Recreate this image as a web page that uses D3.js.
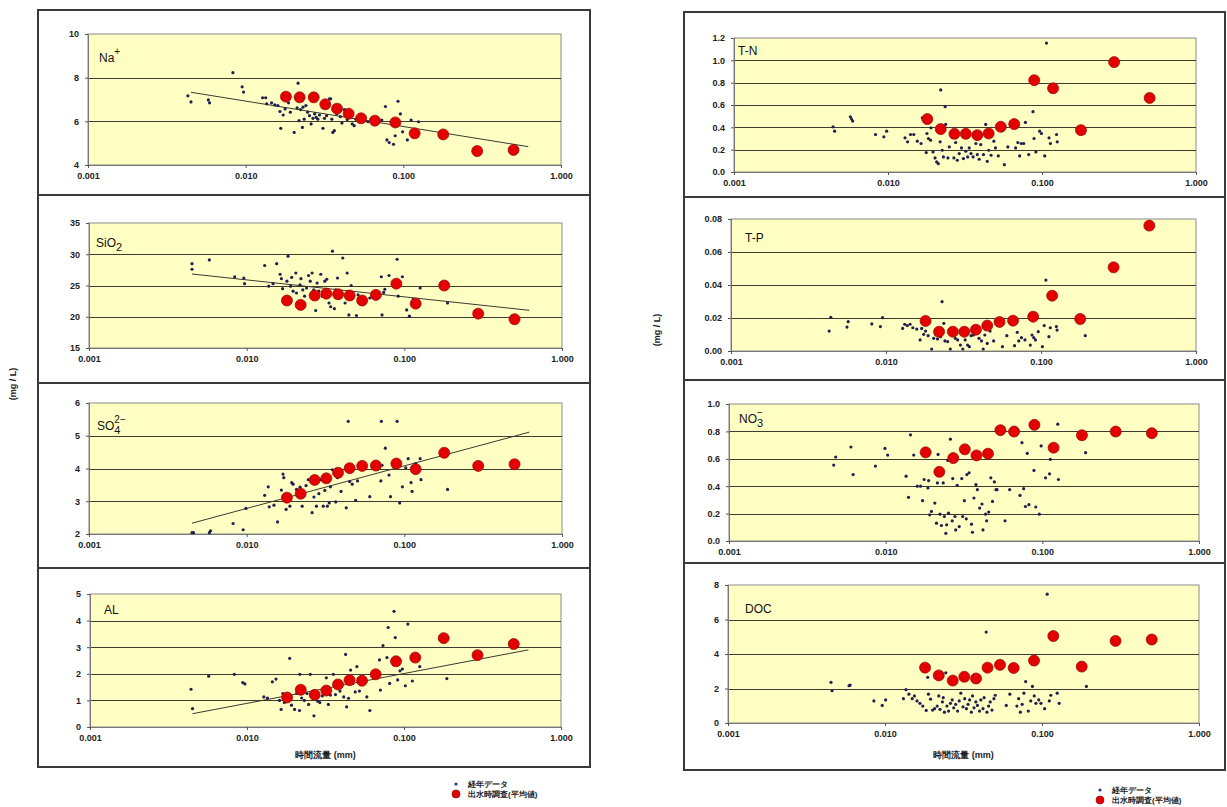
<!DOCTYPE html>
<html>
<head>
<meta charset="utf-8">
<script src="https://cdn.jsdelivr.net/npm/d3@7"></script>
<style>
body { margin: 0; background: #fff; }
text { font-family: "Liberation Sans", Arial, sans-serif; }
</style>
</head>
<body>
<svg id="chart" width="1227" height="807"></svg>
<script>
// x positions of the flood-survey averages (common to every panel)
const floodX = [0.018, 0.022, 0.027, 0.032, 0.038, 0.045, 0.054, 0.066, 0.089, 0.118, 0.179, 0.294, 0.50]
const xTicks = [0.001, 0.01, 0.1, 1]
const trendX = [0.0045, 0.62]

// Na+
const naFlood = [7.13, 7.1, 7.1, 6.78, 6.58, 6.35, 6.14, 6.03, 5.95, 5.45, 5.4, 4.64, 4.69]
const naTrend = [7.33, 4.84]
const naTicks = [4, 6, 8, 10]
const naDots = [[0.0043,7.17],[0.0045,6.89],[0.0058,6.98],[0.0059,6.85],[0.0083,8.23],[0.0095,7.58],[0.0097,7.34],
  [0.0128,7.08],[0.0134,7.08],[0.0136,6.8],[0.0146,6.85],[0.0153,6.75],[0.016,6.72],[0.0165,6.45],[0.0167,5.68],
  [0.0173,6.29],[0.0178,6.57],[0.0187,6.85],[0.0192,6.42],[0.0203,5.49],[0.0212,6.62],[0.0215,7.75],[0.0218,6.03],
  [0.0223,6.54],[0.0229,5.72],[0.0231,6.65],[0.0235,6.1],[0.0241,6.72],[0.0247,6.42],[0.0254,6.26],[0.026,5.88],
  [0.0267,6.14],[0.0274,6.34],[0.028,6.18],[0.0287,6.1],[0.0294,6.29],[0.0309,5.68],[0.0316,6.14],[0.0326,6.26],
  [0.0334,6.8],[0.034,7.03],[0.0346,7.03],[0.0352,6.1],[0.0357,5.49],[0.0365,5.57],[0.0378,6.34],[0.0399,6.22],
  [0.0408,5.92],[0.0423,6.54],[0.0441,6.08],[0.0452,6.18],[0.0474,5.88],[0.0488,5.8],[0.05,6.1],[0.0597,5.98],
  [0.066,6.06],[0.073,6.06],[0.077,6.68],[0.0787,5.15],[0.0814,5.03],[0.0866,4.95],[0.0888,5.34],[0.0925,6.92],
  [0.0958,6.34],[0.099,5.52],[0.106,5.15],[0.112,6.06],[0.125,5.98],[0.09,5.88]]

// SiO2
const siFlood = [22.6, 21.9, 23.4, 23.7, 23.6, 23.4, 22.6, 23.5, 25.3, 22.1, 25.0, 20.5, 19.6]
const siTrend = [26.84, 21.03]
const siTicks = [15, 20, 25, 30, 35]
const siDots = [[0.0045,28.5],[0.0045,27.6],[0.0058,29.1],[0.0084,26.4],[0.0096,26.2],[0.0097,25.3],[0.013,28.2],
  [0.0138,24.9],[0.0147,25.3],[0.0155,28.5],[0.0163,26.8],[0.0166,26.1],[0.0169,24.5],[0.018,25.7],[0.0183,29.7],
  [0.019,24.9],[0.0193,26.3],[0.0197,24.1],[0.0205,27.0],[0.0207,23.8],[0.0218,25.1],[0.0221,26.1],[0.0227,24.3],
  [0.0233,23.3],[0.024,24.6],[0.0247,26.6],[0.0253,25.7],[0.026,27.0],[0.0266,24.3],[0.0274,21.0],[0.028,25.4],
  [0.0287,24.1],[0.0295,26.8],[0.0302,23.3],[0.0313,25.7],[0.0322,26.0],[0.0333,22.2],[0.0341,21.6],[0.035,30.5],
  [0.036,21.3],[0.0367,24.3],[0.0377,26.2],[0.0386,23.8],[0.0407,29.4],[0.0421,22.2],[0.0434,27.0],[0.0445,20.3],
  [0.046,25.0],[0.0497,20.2],[0.0509,23.5],[0.0604,23.0],[0.0715,26.4],[0.0722,20.3],[0.0752,24.4],[0.08,26.6],
  [0.09,29.2],[0.0914,23.3],[0.0972,26.4],[0.1035,21.1],[0.1077,20.1],[0.114,22.8],[0.126,24.6],[0.188,22.2],[0.074,23.9]]

// SO4 2-
const soFlood = [3.11, 3.23, 3.65, 3.7, 3.87, 4.01, 4.08, 4.09, 4.15, 3.98, 4.48, 4.08, 4.13]
const soTrend = [2.33, 5.11]
const soTicks = [2, 3, 4, 5, 6]
const soDots = [[0.0045,2.04],[0.0046,2.04],[0.0058,2.04],[0.0059,2.1],[0.0082,2.32],[0.0095,2.13],[0.0099,2.78],
  [0.013,3.18],[0.0137,3.44],[0.0139,2.83],[0.0149,2.88],[0.0157,2.37],[0.0166,3.34],[0.017,3.83],[0.0172,3.72],
  [0.0178,2.75],[0.0188,2.85],[0.0193,3.57],[0.0197,3.52],[0.0207,3.36],[0.0218,3.43],[0.0225,2.85],[0.023,3.23],
  [0.0238,3.48],[0.0246,3.66],[0.026,2.65],[0.0267,3.13],[0.0277,2.85],[0.0287,3.23],[0.0295,3.66],[0.0306,2.85],
  [0.0313,3.33],[0.0325,2.85],[0.0334,2.95],[0.034,3.44],[0.035,3.96],[0.0367,2.98],[0.0377,3.72],[0.0397,3.3],
  [0.0428,2.8],[0.0441,5.44],[0.045,3.6],[0.0467,3.52],[0.0491,3.03],[0.0505,3.62],[0.0604,3.14],[0.071,3.62],
  [0.0715,5.44],[0.0722,4.1],[0.0758,4.62],[0.08,3.8],[0.0817,3.14],[0.09,5.44],[0.0934,2.95],[0.0972,3.44],
  [0.1021,4.02],[0.1058,4.3],[0.1103,3.57],[0.112,3.3],[0.126,4.3],[0.1275,3.66],[0.188,3.36],[0.118,4.15]]

// AL
const alFlood = [1.11, 1.4, 1.21, 1.37, 1.6, 1.76, 1.74, 1.98, 2.47, 2.61, 3.34, 2.7, 3.12]
const alTrend = [0.5, 2.9]
const alTicks = [0, 1, 2, 3, 4, 5]
const alDots = [[0.0044,1.42],[0.0045,0.69],[0.0057,1.91],[0.0083,1.98],[0.0094,1.67],[0.0097,1.62],[0.0128,1.13],
  [0.0135,1.09],[0.0145,1.7],[0.0153,1.8],[0.0161,1.0],[0.0165,0.66],[0.0169,1.26],[0.0173,0.92],[0.0187,2.58],
  [0.0192,0.82],[0.0201,0.66],[0.0207,1.26],[0.0216,0.62],[0.0217,1.98],[0.0223,1.09],[0.0232,1.0],[0.0241,1.26],
  [0.0247,0.85],[0.0253,1.98],[0.0267,0.42],[0.0275,1.13],[0.0282,0.97],[0.0291,0.92],[0.0302,1.17],[0.032,1.85],
  [0.033,0.85],[0.034,1.2],[0.0355,1.98],[0.0366,1.22],[0.0391,1.35],[0.0413,1.13],[0.0425,2.73],[0.0431,0.76],
  [0.0443,1.08],[0.0457,2.14],[0.0472,1.64],[0.0489,1.32],[0.0501,2.27],[0.052,1.35],[0.058,1.13],[0.0606,0.62],
  [0.0698,2.52],[0.0707,1.39],[0.0735,3.06],[0.0793,3.74],[0.0779,2.61],[0.0811,1.64],[0.0864,4.35],[0.088,3.36],
  [0.0911,1.77],[0.0943,2.11],[0.0977,2.18],[0.102,1.55],[0.1058,3.87],[0.113,1.73],[0.126,2.27],[0.1875,1.82]]

// T-N
const tnFlood = [0.474, 0.384, 0.342, 0.342, 0.33, 0.345, 0.405, 0.429, 0.822, 0.75, 0.375, 0.984, 0.663]
const tnTicks = [0, 0.2, 0.4, 0.6, 0.8, 1.0, 1.2]
const tnDots = [[0.0044,0.405],[0.0045,0.366],[0.0057,0.495],[0.0058,0.474],[0.0059,0.456],[0.0083,0.336],
  [0.0094,0.315],[0.0098,0.366],[0.0129,0.306],[0.0134,0.27],[0.014,0.336],[0.0147,0.336],[0.0155,0.276],
  [0.0164,0.255],[0.0167,0.486],[0.0177,0.174],[0.0179,0.345],[0.0183,0.3],[0.0189,0.285],[0.019,0.396],
  [0.0196,0.18],[0.0202,0.126],[0.0207,0.09],[0.0212,0.075],[0.0218,0.27],[0.022,0.735],[0.0225,0.195],
  [0.0229,0.135],[0.0235,0.585],[0.0237,0.426],[0.0245,0.126],[0.025,0.225],[0.0258,0.315],[0.0268,0.126],
  [0.0275,0.264],[0.0282,0.105],[0.029,0.165],[0.03,0.216],[0.0309,0.12],[0.032,0.186],[0.0329,0.135],
  [0.0337,0.216],[0.0346,0.165],[0.0357,0.135],[0.0372,0.255],[0.038,0.156],[0.0391,0.114],[0.04,0.246],
  [0.0417,0.156],[0.0431,0.426],[0.0441,0.096],[0.0451,0.195],[0.0467,0.15],[0.0487,0.276],[0.0499,0.216],
  [0.052,0.144],[0.057,0.066],[0.06,0.225],[0.0674,0.216],[0.0697,0.264],[0.0716,0.144],[0.0734,0.255],
  [0.0761,0.255],[0.0781,0.444],[0.082,0.156],[0.0874,0.54],[0.0888,0.3],[0.0913,0.18],[0.0965,0.366],
  [0.0992,0.345],[0.1042,0.144],[0.1069,1.155],[0.1111,0.306],[0.1134,0.255],[0.1243,0.336],[0.1256,0.27],[0.1876,0.345]]

// T-P
const tpFlood = [0.0182, 0.0117, 0.0117, 0.0117, 0.0129, 0.0154, 0.0176, 0.0184, 0.0208, 0.0335, 0.0194, 0.0507, 0.076]
const tpTicks = [0, 0.02, 0.04, 0.06, 0.08]
const tpDots = [[0.0043,0.0121],[0.0044,0.0204],[0.0056,0.0145],[0.0057,0.0178],[0.0081,0.0164],[0.0092,0.0148],
  [0.0095,0.0202],[0.0128,0.0137],[0.0132,0.0162],[0.0137,0.0154],[0.0143,0.0162],[0.0149,0.0141],[0.0158,0.0133],
  [0.0166,0.0067],[0.017,0.0137],[0.0175,0.0101],[0.018,0.0121],[0.0187,0.0093],[0.0197,0.0012],[0.0203,0.0077],
  [0.021,0.0097],[0.0215,0.0073],[0.0225,0.0087],[0.023,0.0299],[0.0236,0.0168],[0.024,0.0061],[0.025,0.0057],
  [0.026,0.0012],[0.0268,0.0097],[0.028,0.0077],[0.029,0.0067],[0.0302,0.0036],[0.0313,0.0012],[0.0324,0.0067],
  [0.0336,0.0036],[0.0345,0.0026],[0.0354,0.0093],[0.0367,0.0097],[0.0383,0.0148],[0.0398,0.0077],[0.0413,0.0061],
  [0.0424,0.0012],[0.0434,0.0097],[0.045,0.0046],[0.0469,0.0121],[0.0495,0.0061],[0.0564,0.0026],[0.0602,0.0093],
  [0.0675,0.0032],[0.0703,0.0113],[0.0719,0.0061],[0.0748,0.0081],[0.0788,0.0067],[0.0853,0.0036],[0.0875,0.0097],
  [0.0898,0.0081],[0.0921,0.0067],[0.096,0.0117],[0.1021,0.0026],[0.1049,0.0154],[0.1076,0.043],[0.1125,0.0087],
  [0.1148,0.0141],[0.1256,0.0148],[0.127,0.0127],[0.193,0.0093]]

// NO3-
const noFlood = [0.647, 0.505, 0.605, 0.669, 0.625, 0.637, 0.809, 0.799, 0.848, 0.681, 0.772, 0.799, 0.787]
const noTicks = [0, 0.2, 0.4, 0.6, 0.8, 1.0]
const noDots = [[0.00466,0.554],[0.0048,0.613],[0.006,0.686],[0.0062,0.485],[0.0086,0.547],[0.0099,0.676],
  [0.0103,0.627],[0.0135,0.473],[0.014,0.319],[0.0144,0.775],[0.0151,0.627],[0.0159,0.4],[0.0167,0.4],[0.0172,0.294],
  [0.0176,0.449],[0.0186,0.387],[0.0188,0.441],[0.0191,0.191],[0.0196,0.216],[0.0206,0.277],[0.0211,0.13],
  [0.0214,0.424],[0.0216,0.632],[0.0222,0.196],[0.0227,0.113],[0.0233,0.424],[0.0237,0.179],[0.0242,0.056],
  [0.0245,0.118],[0.0249,0.588],[0.0252,0.203],[0.0259,0.743],[0.0266,0.147],[0.0268,0.456],[0.0277,0.179],
  [0.028,0.081],[0.0286,0.407],[0.0295,0.105],[0.0306,0.456],[0.031,0.179],[0.0318,0.294],[0.0327,0.162],
  [0.033,0.485],[0.0341,0.498],[0.0353,0.123],[0.0358,0.064],[0.0366,0.314],[0.0377,0.412],[0.0385,0.375],
  [0.0398,0.24],[0.0412,0.27],[0.0418,0.081],[0.0434,0.196],[0.0441,0.147],[0.0455,0.211],[0.0469,0.461],
  [0.0481,0.289],[0.0494,0.431],[0.0506,0.375],[0.0514,0.375],[0.0578,0.147],[0.0619,0.375],[0.072,0.333],
  [0.0741,0.718],[0.076,0.382],[0.078,0.252],[0.0801,0.64],[0.0821,0.265],[0.0884,0.515],[0.0908,0.248],
  [0.0957,0.196],[0.0983,0.694],[0.1048,0.461],[0.1112,0.49],[0.1124,0.596],[0.1255,0.853],[0.1267,0.449],[0.1889,0.645]]

// DOC
const docFlood = [3.21, 2.76, 2.46, 2.68, 2.58, 3.21, 3.37, 3.19, 3.62, 5.04, 3.27, 4.76, 4.84]
const docTicks = [0, 2, 4, 6, 8]
const docDots = [[0.00453,2.36],[0.0046,1.87],[0.0059,2.16],[0.006,2.2],[0.0085,1.28],[0.0096,1.02],[0.0101,1.34],
  [0.0131,1.41],[0.0136,1.93],[0.0142,1.67],[0.0149,1.41],[0.0154,1.57],[0.016,1.28],[0.0167,1.14],[0.0174,0.98],
  [0.0183,0.73],[0.0187,2.65],[0.0189,1.67],[0.0195,1.38],[0.0201,0.75],[0.0207,0.83],[0.0215,0.98],[0.022,1.57],
  [0.0224,0.79],[0.0232,1.22],[0.0235,1.47],[0.0239,0.63],[0.0244,2.91],[0.0248,0.98],[0.0254,0.69],[0.0261,1.14],
  [0.0268,1.34],[0.0274,0.88],[0.0282,1.08],[0.029,0.69],[0.0297,1.28],[0.0304,1.73],[0.0314,0.94],[0.0322,1.41],
  [0.033,0.83],[0.0338,1.08],[0.0346,1.34],[0.0355,0.63],[0.0361,1.57],[0.0369,0.88],[0.0379,1.22],[0.0388,1.02],
  [0.04,0.69],[0.0408,1.34],[0.0421,0.83],[0.0428,1.47],[0.0441,5.27],[0.0446,0.63],[0.0457,0.98],[0.0468,1.22],
  [0.048,0.75],[0.0494,1.41],[0.0504,1.61],[0.0592,1.02],[0.0624,1.67],[0.0692,0.98],[0.071,1.41],[0.0728,0.63],
  [0.0748,1.08],[0.0767,1.73],[0.0787,2.4],[0.0818,0.69],[0.0848,1.28],[0.0869,2.12],[0.0892,1.57],[0.0915,1.14],
  [0.0953,1.34],[0.0985,1.14],[0.104,0.83],[0.1079,7.47],[0.1114,1.28],[0.1138,1.61],[0.125,1.73],[0.1287,1.14],[0.1918,2.12]]

const legendLabels = ["経年データ", "出水時調査(平均値)"]
const xTitle = "時間流量 (mm)"
const yTitle = "(mg / L)"

// panel layout: box = [x0, y0, x1, y1], plot = [x0, y0, x1, y1], lab = [dx, dy] of the label
const panels = [
  {dots: naDots, flood: naFlood, trend: naTrend, ticks: naTicks, fmt: "d", label: {base: "Na", sup: "+"},
   box: [38, 10, 590, 195], plot: [88, 34, 561, 165], lab: [11, 28]},
  {dots: siDots, flood: siFlood, trend: siTrend, ticks: siTicks, fmt: "d", label: {base: "SiO", sub: "2"},
   box: [38, 195, 590, 383], plot: [89, 223, 562, 348], lab: [7, 24]},
  {dots: soDots, flood: soFlood, trend: soTrend, ticks: soTicks, fmt: "d", label: {base: "SO", sub: "4", sup: "2−"},
   box: [38, 383, 590, 568], plot: [89, 403, 562, 534], lab: [8, 27]},
  {dots: alDots, flood: alFlood, trend: alTrend, ticks: alTicks, fmt: "d", label: {base: "AL"},
   box: [38, 568, 590, 767], plot: [90, 594, 561, 727], lab: [14, 20], xTitle: 758},
  {dots: tnDots, flood: tnFlood, ticks: tnTicks, fmt: ".1f", label: {base: "T-N"},
   box: [684, 12, 1225, 197], plot: [734, 38, 1196, 172], lab: [4, 17]},
  {dots: tpDots, flood: tpFlood, ticks: tpTicks, fmt: ".2f", label: {base: "T-P"},
   box: [684, 197, 1225, 380], plot: [731, 219, 1196, 351], lab: [14, 23]},
  {dots: noDots, flood: noFlood, ticks: noTicks, fmt: ".1f", label: {base: "NO", sub: "3", sup: "−"},
   box: [684, 380, 1225, 563], plot: [729, 404, 1199, 541], lab: [10, 19]},
  {dots: docDots, flood: docFlood, ticks: docTicks, fmt: "d", label: {base: "DOC"},
   box: [684, 563, 1225, 770], plot: [728, 585, 1199, 723], lab: [17, 28], xTitle: 758}
]

const svg = d3.select("#chart")
svg.append("rect").attr("width", 1227).attr("height", 807).attr("fill", "#fff")

panels.forEach(function(p) {
  const [bx0, by0, bx1, by1] = p.box
  const [px0, py0, px1, py1] = p.plot

  svg.append("rect")
    .attr("x", bx0).attr("y", by0)
    .attr("width", bx1 - bx0).attr("height", by1 - by0)
    .attr("fill", "#fff").attr("stroke", "#3a3a3a").attr("stroke-width", 2)

  const x = d3.scaleLog().domain([0.001, 1]).range([px0, px1])
  const y = d3.scaleLinear().domain(d3.extent(p.ticks)).range([py1, py0])

  const g = svg.append("g")

  g.append("rect")
    .attr("x", px0).attr("y", py0)
    .attr("width", px1 - px0).attr("height", py1 - py0)
    .attr("fill", "#ffffc4").attr("stroke", "#8a8a8a").attr("stroke-width", 1)

  // gridlines
  g.selectAll(".grid")
    .data(p.ticks.slice(1, -1))
    .enter().append("line")
    .attr("x1", px0).attr("x2", px1)
    .attr("y1", d => Math.round(y(d)) + 0.5).attr("y2", d => Math.round(y(d)) + 0.5)
    .attr("stroke", "#3c3c30").attr("stroke-width", 1)

  const yAxis = d3.axisLeft(y).tickValues(p.ticks).tickFormat(d3.format(p.fmt)).tickSize(3).tickPadding(6)
  const ya = g.append("g").attr("transform", `translate(${px0},0)`).call(yAxis)
  const xAxis = d3.axisBottom(x).tickValues(xTicks).tickFormat(d3.format(".3f")).tickSize(3).tickPadding(5)
  const xa = g.append("g").attr("transform", `translate(0,${py1})`).call(xAxis)
  ;[ya, xa].forEach(function(a) {
    a.select(".domain").attr("stroke", "#777")
    a.selectAll(".tick line").attr("stroke", "#555")
    a.selectAll("text")
      .attr("font-family", "'Liberation Sans', Arial, sans-serif")
      .attr("font-size", "9px").attr("font-weight", "bold").attr("fill", "#222")
  })

  // trend line
  if (p.trend) {
    g.append("line")
      .attr("x1", x(trendX[0])).attr("y1", y(p.trend[0]))
      .attr("x2", x(trendX[1])).attr("y2", y(p.trend[1]))
      .attr("stroke", "#3a3a30").attr("stroke-width", 1)
  }

  // annual data
  g.selectAll(".dot")
    .data(p.dots)
    .enter().append("circle")
    .attr("cx", d => x(d[0])).attr("cy", d => y(d[1]))
    .attr("r", 1.6)
    .attr("fill", "#1e2050")

  // flood survey averages
  g.selectAll(".flood")
    .data(p.flood)
    .enter().append("circle")
    .attr("cx", (d, i) => x(floodX[i])).attr("cy", d => y(d))
    .attr("r", 5.5)
    .attr("fill", "#e40000").attr("stroke", "#9a1010").attr("stroke-width", 0.8)

  // label
  const lx = px0 + p.lab[0], ly = py0 + p.lab[1]
  const t = g.append("text").attr("x", lx).attr("y", ly)
    .attr("font-size", "12px").attr("fill", "#111").text(p.label.base)
  const baseW = t.node().getComputedTextLength()
  if (p.label.sub) {
    g.append("text").attr("x", lx + baseW).attr("y", ly + 4)
      .attr("font-size", "11px").attr("fill", "#111").text(p.label.sub)
  }
  if (p.label.sup) {
    g.append("text").attr("x", lx + baseW).attr("y", ly - 7)
      .attr("font-size", "10px").attr("fill", "#111").text(p.label.sup)
  }

  if (p.xTitle) {
    g.append("text")
      .attr("x", (px0 + px1) / 2).attr("y", p.xTitle)
      .attr("text-anchor", "middle")
      .attr("font-family", "'Noto Sans CJK JP', sans-serif")
      .attr("font-size", "9px").attr("font-weight", "bold").attr("fill", "#222")
      .text(xTitle)
  }
})

// y titles
;[[16, 384], [660, 330]].forEach(function(pos) {
  svg.append("text")
    .attr("transform", `translate(${pos[0]},${pos[1]}) rotate(-90)`)
    .attr("text-anchor", "middle")
    .attr("font-size", "9px").attr("font-weight", "bold").attr("fill", "#222")
    .text(yTitle)
})

// legends
;[[456, 784], [1100, 790]].forEach(function(pos) {
  const lg = svg.append("g").attr("transform", `translate(${pos[0]},${pos[1]})`)
  lg.append("circle").attr("cx", 0).attr("cy", 0).attr("r", 1.6).attr("fill", "#1e3a90")
  lg.append("circle").attr("cx", 0).attr("cy", 10).attr("r", 4)
    .attr("fill", "#e40000").attr("stroke", "#9a1010").attr("stroke-width", 0.8)
  lg.selectAll(".lt")
    .data(legendLabels)
    .enter().append("text")
    .attr("x", 12).attr("y", (d, i) => i * 10 + 3)
    .attr("font-family", "'Noto Sans CJK JP', sans-serif")
    .attr("font-size", "8px").attr("font-weight", "bold").attr("fill", "#222")
    .text(d => d)
})
</script>
</body>
</html>
